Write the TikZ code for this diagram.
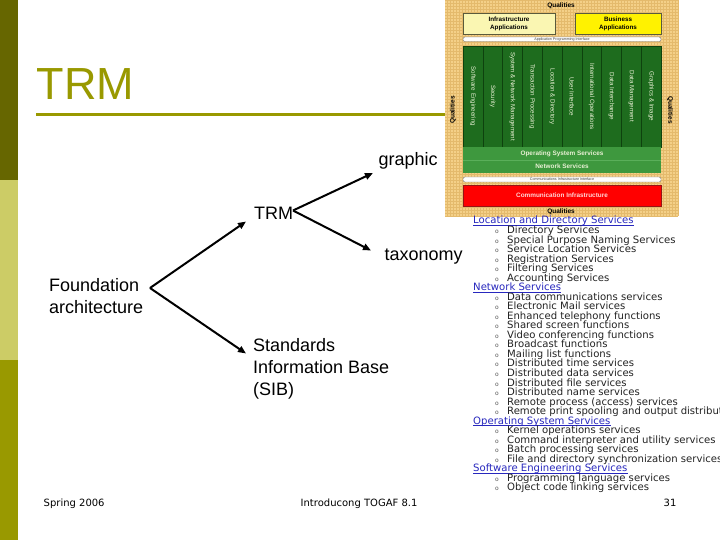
\documentclass[tikz,border=0pt]{standalone}
\usepackage{fontspec}
\setmainfont{Liberation Sans}
\newfontfamily\verd{DejaVu Sans}
\usetikzlibrary{arrows.meta,calc}
\definecolor{barDark}{RGB}{102,102,0}
\definecolor{barLight}{RGB}{204,204,102}
\definecolor{barMid}{RGB}{153,153,0}
\definecolor{olv}{RGB}{153,153,0}
\definecolor{tanbg}{RGB}{244,208,136}
\definecolor{tangrid}{RGB}{228,186,108}
\definecolor{paleY}{RGB}{250,246,178}
\definecolor{dkGreen}{RGB}{30,108,30}
\definecolor{dkLine}{RGB}{14,66,14}
\definecolor{mdGreen}{RGB}{62,152,62}
\definecolor{sepGreen}{RGB}{90,175,90}
\definecolor{colTxt}{RGB}{232,240,212}
\definecolor{linkBlue}{RGB}{40,40,190}
\definecolor{itemTxt}{RGB}{35,35,35}
\definecolor{boxLine}{RGB}{90,90,60}
\definecolor{ifLine}{RGB}{120,120,120}
\definecolor{ifTxt}{RGB}{60,60,60}
\definecolor{redLine}{RGB}{150,20,20}
\definecolor{pinkTxt}{RGB}{255,215,215}
\definecolor{bulC}{RGB}{90,90,90}
\tikzset{
  maintxt/.style={font=\fontsize{18}{22}\selectfont, inner sep=0, anchor=base west},
  arr/.style={line width=2pt, -{Triangle[length=8pt,width=6.5pt]}},
  foot/.style={font=\verd\fontsize{10}{12}\selectfont, inner sep=0, anchor=base west},
  qual/.style={font=\bfseries\fontsize{6.5}{7}\selectfont, inner sep=0},
  appbox/.style={draw=boxLine, line width=0.5pt},
  ifbar/.style={draw=ifLine, fill=white, rounded corners=2pt, line width=0.4pt},
  iftxt/.style={font=\fontsize{3.6}{4}\selectfont, inner sep=0, text=ifTxt},
  coltxt/.style={font=\fontsize{6.2}{7}\selectfont, inner sep=0, text=colTxt, rotate=-90},
  layertxt/.style={font=\bfseries\fontsize{6.4}{7}\selectfont, inner sep=0, text=colTxt},
  head/.style={font=\verd\fontsize{10.1}{11}\selectfont, inner sep=0, anchor=base west, text=linkBlue},
  item/.style={font=\verd\fontsize{10.1}{11}\selectfont, inner sep=0, anchor=base west, text=itemTxt},
  bul/.style={font=\verd\fontsize{6}{7}\selectfont, inner sep=0, anchor=base west, text=bulC}
}
\begin{document}
\begin{tikzpicture}[x=1pt,y=-1pt]
\useasboundingbox (0,0) rectangle (720,540);
\fill[white] (0,0) rectangle (720,540);
% side bars
\fill[barDark] (0,0) rectangle (18,180);
\fill[barLight] (0,180) rectangle (18,360);
\fill[barMid] (0,360) rectangle (18,540);
% title
\node[font=\fontsize{45}{45}\selectfont, text=olv, inner sep=0, anchor=base west] (title) at (36.5,100) {TRM};
\draw[olv, line width=2.6pt] (36,114.5) -- (445,114.5);

% ---------- graphic ----------
\fill[tanbg] (445,0) rectangle (678,216);
\draw[tangrid, line width=0.35pt, step=3pt] (445,0) grid (678,216);
\node[qual] (qtop) at (561,5.5) {Qualities};
\node[qual] (qbot) at (561,212) {Qualities};
\node[qual, rotate=90] (qleft) at (453,110) {Qualities};
\node[qual, rotate=-90] (qright) at (670,110) {Qualities};
\draw[appbox, fill=paleY] (463,13) rectangle (555,34);
\node[qual, align=center, font=\bfseries\fontsize{6.3}{8}\selectfont] (infra) at (509,23.5) {Infrastructure\\Applications};
\draw[appbox, fill=yellow] (575,13) rectangle (661,34);
\node[qual, align=center, font=\bfseries\fontsize{6.3}{8}\selectfont] (bus) at (618,23.5) {Business\\Applications};
\draw[ifbar] (463,37) rectangle (661,41.5);
\node[iftxt] (api) at (562,39.3) {Application Programming Interface};
% columns
\fill[dkGreen] (463,46) rectangle (661,147);
\foreach \i in {1,...,9} {\draw[dkLine, line width=0.6pt] ({463+19.8*\i},46) -- ({463+19.8*\i},147);}
\draw[dkLine, line width=0.6pt] (463,46) rectangle (661,147);
\foreach \t [count=\k from 0] in {Software Engineering,Security,System \& Network Management,Transaction Processing,Location \& Directory,User Interface,International Operations,Data Interchange,Data Management,Graphics \& Image}
  {\node[coltxt] (col\k) at ({472.9+19.8*\k},96.5) {\t};}
% service layers
\fill[mdGreen] (463,147) rectangle (661,173);
\draw[sepGreen, line width=0.5pt] (463,160) -- (661,160);
\node[layertxt] (oss) at (562,153.5) {Operating System Services};
\node[layertxt] (nws) at (562,166.5) {Network Services};
\draw[ifbar] (463,177) rectangle (661,182);
\node[iftxt] (cii) at (562,179.5) {Communications Infrastructure Interface};
\draw[fill=red, draw=redLine, line width=0.5pt] (463,185) rectangle (661,206);
\node[layertxt, text=pinkTxt] (ci) at (562,195.5) {Communication Infrastructure};

% ---------- main texts ----------
\node[maintxt] (graphic) at (378.5,166) {graphic};
\node[maintxt] (trm) at (254,219) {TRM};
\node[maintxt] (taxo) at (384.5,260) {taxonomy};
\node[maintxt] (fnd1) at (49,291) {Foundation};
\node[maintxt] (fnd2) at (49,313) {architecture};
\node[maintxt] (sib1) at (253,351) {Standards};
\node[maintxt] (sib2) at (253,373) {Information Base};
\node[maintxt] (sib3) at (253,395) {(SIB)};
% arrows
\coordinate (fA) at (150,288);
\coordinate (tA) at (293,210.5);
\coordinate (toTrm) at (246,221.5);
\coordinate (toSib) at (246,353.5);
\coordinate (toGr) at (373,173);
\coordinate (toTx) at (371,250.5);
\draw[arr] (fA) -- (toTrm);
\draw[arr] (fA) -- (toSib);
\draw[arr] (tA) -- (toGr);
\draw[arr] (tA) -- (toTx);

% ---------- taxonomy ----------
\begin{scope}
\clip (0,0) rectangle (720,540);
\def\bl#1{224+9.53*#1}
\foreach \t/\n [count=\k from 0] in {Location and Directory Services/0,Network Services/7,Operating System Services/21,Software Engineering Services/26}{
  \node[head] (h\k) at (473,{\bl{\n}}) {\t};
  \draw[linkBlue, line width=0.6pt] ($(h\k.base west)+(0,1.6)$) -- ($(h\k.base east)+(0,1.6)$);
}
\foreach \t [count=\k from 1] in {Directory Services,Special Purpose Naming Services,Service Location Services,Registration Services,Filtering Services,Accounting Services}{
  \node[bul] (locb\k) at (495,{\bl{\k}}) {o};
  \node[item] (loc\k) at (507,{\bl{\k}}) {\t};
}
\foreach \t [count=\k from 8] in {Data communications services,Electronic Mail services,Enhanced telephony functions,Shared screen functions,Video conferencing functions,Broadcast functions,Mailing list functions,Distributed time services,Distributed data services,Distributed file services,Distributed name services,Remote process (access) services,Remote print spooling and output distribution}{
  \node[bul] (netb\k) at (495,{\bl{\k}}) {o};
  \node[item] (net\k) at (507,{\bl{\k}}) {\t};
}
\foreach \t [count=\k from 22] in {Kernel operations services,Command interpreter and utility services,Batch processing services,File and directory synchronization services}{
  \node[bul] (osb\k) at (495,{\bl{\k}}) {o};
  \node[item] (osi\k) at (507,{\bl{\k}}) {\t};
}
\foreach \t [count=\k from 27] in {Programming language services,Object code linking services}{
  \node[bul] (seb\k) at (495,{\bl{\k}}) {o};
  \node[item] (sei\k) at (507,{\bl{\k}}) {\t};
}
\end{scope}

% ---------- footer ----------
\node[foot] (spring) at (43.5,506.5) {Spring 2006};
\node[foot] (intro) at (300.5,506.5) {Introducong TOGAF 8.1};
\node[foot] (pnum) at (663.5,506.5) {31};
\end{tikzpicture}
\end{document}
